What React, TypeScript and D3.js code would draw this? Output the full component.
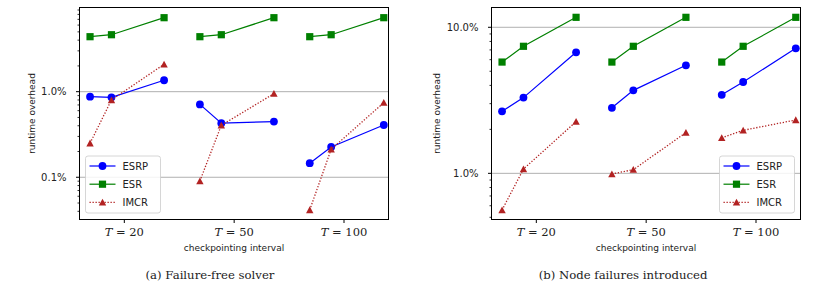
import React from "react";
import * as d3 from "d3";

// ---------- data ----------
const categories = ["20", "50", "100"];
const pointOffsets = [-0.312, -0.117, 0.362];
const seriesNames = ["ESRP", "ESR", "IMCR"];

// (a) Failure-free solver, runtime overhead in %
const esrpA = [[0.875, 0.86, 1.36], [0.71, 0.428, 0.447], [0.146, 0.226, 0.408]];
const esrA = [[4.39, 4.63, 7.32], [4.39, 4.63, 7.32], [4.39, 4.63, 7.32]];
const imcrA = [[0.25, 0.8, 2.09], [0.0905, 0.405, 0.948], [0.0415, 0.212, 0.744]];
const yTicksA = [0.1, 1];
const yTickLabelsA = ["0.1%", "1.0%"];

// (b) Node failures introduced
const esrpB = [[2.66, 3.3, 6.74], [2.81, 3.7, 5.49], [3.45, 4.22, 7.18]];
const esrB = [[5.78, 7.41, 11.7], [5.78, 7.41, 11.7], [5.78, 7.41, 11.7]];
const imcrB = [[0.561, 1.07, 2.26], [0.99, 1.06, 1.9], [1.75, 1.97, 2.32]];
const yTicksB = [1, 10];
const yTickLabelsB = ["1.0%", "10.0%"];

const captions = ["(a) Failure-free solver", "(b) Node failures introduced"];

// ---------- styling ----------
const COLORS = ["#0000ff", "#008000", "#b22222"];
const SANS = "'DejaVu Sans', sans-serif";
const SERIF = "'DejaVu Serif', serif";

function Marker({ kind, x, y, color }: { kind: number; x: number; y: number; color: string }) {
  if (kind === 0) return <circle cx={x} cy={y} r={3.9} fill={color} />;
  if (kind === 1) return <rect x={x - 3.6} y={y - 3.6} width={7.2} height={7.2} fill={color} />;
  return <path d={`M${x},${y - 3.6}L${x + 3.7},${y + 3.2}L${x - 3.7},${y + 3.2}Z`} fill={color} />;
}

type PanelProps = {
  left: number; right: number; top: number; bottom: number;
  yDomain: [number, number];
  yTicks: number[]; yTickLabels: string[];
  series: number[][][];
  legendRight: boolean;
  caption: string; captionX: number; ylabelX: number;
};

function Panel(p: PanelProps) {
  const x = d3.scaleLinear().domain([-0.408, 2.405]).range([p.left, p.right]);
  const y = d3.scaleLog().domain(p.yDomain).range([p.bottom, p.top]);
  const [lo, hi] = p.yDomain;
  const minor: number[] = [];
  for (let k = Math.floor(Math.log10(lo)); k <= Math.ceil(Math.log10(hi)); k++) {
    for (let m = 2; m <= 9; m++) {
      const v = m * Math.pow(10, k);
      if (v >= lo && v <= hi) minor.push(v);
    }
  }
  const line = d3.line<[number, number]>().x((d) => d[0]).y((d) => d[1]);
  const cx = (p.left + p.right) / 2;
  const cy = (p.top + p.bottom) / 2;

  const lgW = 75, lgH = 57;
  const lgX = p.legendRight ? p.right - 6 - lgW : p.left + 6;
  const lgY = p.bottom - 6.5 - lgH;

  return (
    <g>
      {/* grid */}
      {p.yTicks.map((t) => (
        <line key={"g" + t} x1={p.left} x2={p.right} y1={y(t)} y2={y(t)} stroke="#b0b0b0" strokeWidth={1} />
      ))}
      {/* series */}
      {p.series.map((groups, si) =>
        groups.map((vals, gi) => {
          const pts: [number, number][] = vals.map((v, i) => [x(gi + pointOffsets[i]), y(v)]);
          return (
            <g key={`s${si}-${gi}`}>
              <path
                d={line(pts) || ""}
                fill="none"
                stroke={COLORS[si]}
                strokeWidth={si === 2 ? 1.3 : 1.2}
                strokeDasharray={si === 2 ? "1.3,1.7" : undefined}
              />
              {pts.map((pt, i) => (
                <Marker key={i} kind={si} x={pt[0]} y={pt[1]} color={COLORS[si]} />
              ))}
            </g>
          );
        })
      )}
      {/* frame */}
      <rect x={p.left} y={p.top} width={p.right - p.left} height={p.bottom - p.top} fill="none" stroke="#000" strokeWidth={1} />
      {/* y ticks */}
      {minor.map((t) => (
        <line key={"m" + t} x1={p.left - 2} x2={p.left} y1={y(t)} y2={y(t)} stroke="#000" strokeWidth={0.8} />
      ))}
      {p.yTicks.map((t, i) => (
        <g key={"t" + t}>
          <line x1={p.left - 3.5} x2={p.left} y1={y(t)} y2={y(t)} stroke="#000" strokeWidth={1} />
          <text x={p.left - 13} y={y(t)} dy="0.35em" textAnchor="end" fontFamily={SANS} fontSize={10} fill="#222">
            {p.yTickLabels[i]}
          </text>
        </g>
      ))}
      {/* x ticks */}
      {categories.map((c, i) => (
        <g key={"x" + c}>
          <line x1={x(i)} x2={x(i)} y1={p.bottom} y2={p.bottom + 3.5} stroke="#000" strokeWidth={1} />
          <text x={x(i)} y={236} textAnchor="middle" fontFamily={SERIF} fontSize={11.5} fill="#222">
            <tspan fontStyle="italic">T</tspan> = {c}
          </text>
        </g>
      ))}
      {/* axis labels */}
      <text x={cx} y={251} textAnchor="middle" fontFamily={SANS} fontSize={9} fill="#222">checkpointing interval</text>
      <text transform={`translate(${p.ylabelX},${cy}) rotate(-90)`} textAnchor="middle" dy="0.35em" fontFamily={SANS} fontSize={9} fill="#222">
        runtime overhead
      </text>
      {/* legend */}
      <rect x={lgX} y={lgY} width={lgW} height={lgH} rx={2.5} fill="#fff" fillOpacity={0.85} stroke="#cccccc" strokeWidth={0.8} />
      {seriesNames.map((n, i) => {
        const ry = lgY + 10 + i * 18.2;
        return (
          <g key={n}>
            <line x1={lgX + 4} x2={lgX + 30} y1={ry} y2={ry} stroke={COLORS[i]} strokeWidth={1.2} strokeDasharray={i === 2 ? "1.3,1.7" : undefined} />
            <Marker kind={i} x={lgX + 17} y={ry} color={COLORS[i]} />
            <text x={lgX + 37} y={ry} dy="0.36em" fontFamily={SANS} fontSize={10} fill="#222">{n}</text>
          </g>
        );
      })}
      {/* caption */}
      <text x={p.captionX} y={279} textAnchor="middle" fontFamily={SERIF} fontSize={11.7} fill="#222">{p.caption}</text>
    </g>
  );
}

export default function App() {
  return (
    <svg width={830} height={284} style={{ position: "absolute", left: 0, top: 0, background: "#fff" }}>
      <Panel
        left={79.5} right={388.5} top={7.5} bottom={219.5}
        yDomain={[0.0321, 9.63]}
        yTicks={yTicksA} yTickLabels={yTickLabelsA}
        series={[esrpA, esrA, imcrA]}
        legendRight={false}
        caption={captions[0]} captionX={210} ylabelX={32}
      />
      <Panel
        left={491.5} right={800.5} top={7.5} bottom={219.5}
        yDomain={[0.483, 13.66]}
        yTicks={yTicksB} yTickLabels={yTickLabelsB}
        series={[esrpB, esrB, imcrB]}
        legendRight={true}
        caption={captions[1]} captionX={623} ylabelX={437}
      />
    </svg>
  );
}
